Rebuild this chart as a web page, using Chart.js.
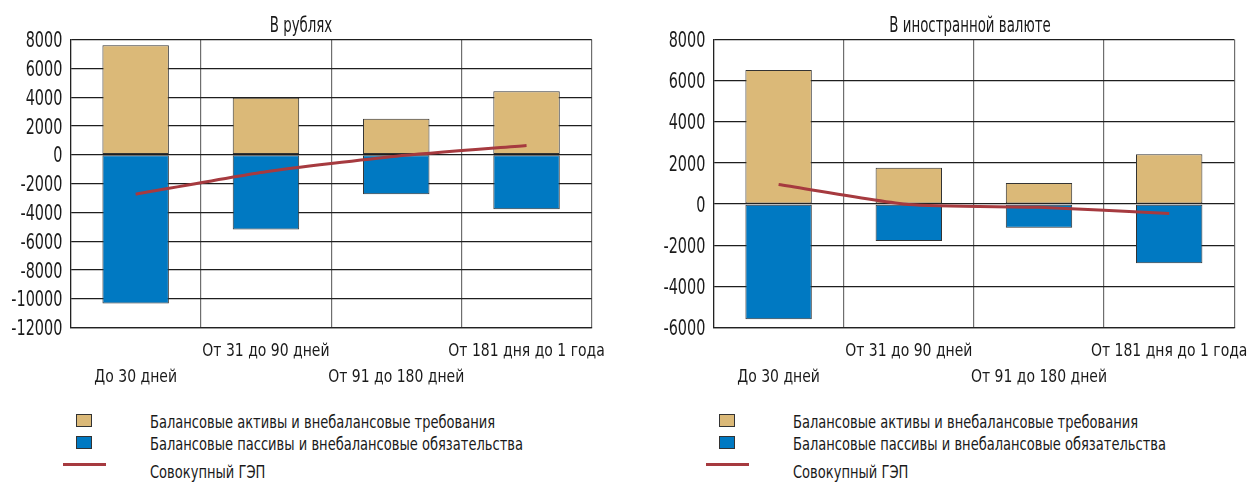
<!DOCTYPE html>
<html lang="ru">
<head>
<meta charset="utf-8">
<title>ГЭП по срокам</title>
<script src="https://cdn.jsdelivr.net/npm/chart.js@4/dist/chart.umd.min.js"></script>
<style>
  html, body { margin: 0; padding: 0; background: #fff; }
  #page { position: relative; width: 1248px; height: 482px; overflow: hidden; background: #fff;
          font-family: 'DejaVu Sans Condensed', 'DejaVu Sans', sans-serif; color: #1a1a1a; }
  canvas { position: absolute; top: 0; }
  .title { position: absolute; top: 13.2px; font-size: 20.5px; line-height: 24px; white-space: nowrap;
           transform-origin: 50% 50%; transform: translateX(-50%) scaleX(0.725); }
  .legend { position: absolute; top: 0; left: 0; }
  .lg-box { position: absolute; width: 14px; height: 10.5px; border: 1px solid #333; }
  .lg-line { position: absolute; height: 3px; background: #a63a3f; }
  .lg-text { position: absolute; font-size: 17.3px; line-height: 22px; white-space: nowrap;
             transform-origin: 0 50%; transform: scaleX(0.84); }
</style>
</head>
<body>
<div id="page">
  <canvas id="rub" width="620" height="400" style="left:0px"></canvas>
  <canvas id="fx" width="605" height="400" style="left:643px"></canvas>
  <div class="title" style="left:301px">В рублях</div>
  <div class="title" style="left:969.5px">В иностранной валюте</div>
  <div id="legend-rub" class="legend" style="left:0px"></div>
  <div id="legend-fx" class="legend" style="left:643px"></div>
</div>
<script>
// Maturity buckets
const categories = ['До 30 дней', 'От 31 до 90 дней', 'От 91 до 180 дней', 'От 181 дня до 1 года'];

// Series names
const seriesNames = [
  'Балансовые активы и внебалансовые требования',
  'Балансовые пассивы и внебалансовые обязательства',
  'Совокупный ГЭП'
];

// Rouble positions
const rubAssets      = [7600, 3950, 2500, 4400];
const rubLiabilities = [-10330, -5200, -2740, -3780];
const rubGap         = [-2740, -1180, -100, 640];

// Foreign currency positions
const fxAssets      = [6520, 1770, 1020, 2420];
const fxLiabilities = [-5600, -1800, -1150, -2880];
const fxGap         = [950, -20, -160, -460];

// Value axis ranges
const rubAxis = { min: -12000, max: 8000, step: 2000 };
const fxAxis  = { min: -6000,  max: 8000, step: 2000 };

const COLORS = { assets: '#dbb978', liabilities: '#0079c2', gap: '#a63a3f', border: '#333333', text: '#1a1a1a' };
const FONT = "'DejaVu Sans Condensed', 'DejaVu Sans', sans-serif";

// Narrow-looking axis labels: the font is squeezed horizontally when drawn
const VALUE_LABEL = { size: 20.5, squeeze: 0.78, gap: 8.2, drop: 7.6 };
const BUCKET_LABEL = { size: 18.4, squeeze: 0.845, rowBaselines: [28.2, 54.2] };

function fillSqueezed(ctx, text, x, y, k) {
  ctx.save();
  ctx.translate(x, y);
  ctx.scale(k, 1);
  ctx.fillText(text, 0, 0);
  ctx.restore();
}

const squeezedAxisLabels = {
  id: 'squeezedAxisLabels',
  afterDraw(chart) {
    const { ctx, chartArea } = chart;
    const xs = chart.scales.x, ys = chart.scales.y;
    ctx.save();
    ctx.fillStyle = COLORS.text;
    ctx.textBaseline = 'alphabetic';

    ctx.font = `${VALUE_LABEL.size}px ${FONT}`;
    ctx.textAlign = 'right';
    ys.ticks.forEach((t, i) => {
      fillSqueezed(ctx, String(t.value), ys.right - VALUE_LABEL.gap,
                   ys.getPixelForTick(i) + VALUE_LABEL.drop, VALUE_LABEL.squeeze);
    });

    // buckets alternate between two label rows
    ctx.font = `${BUCKET_LABEL.size}px ${FONT}`;
    ctx.textAlign = 'center';
    chart.data.labels.forEach((label, i) => {
      const row = i % 2 === 0 ? 1 : 0;
      fillSqueezed(ctx, label, xs.getPixelForTick(i),
                   chartArea.bottom + BUCKET_LABEL.rowBaselines[row], BUCKET_LABEL.squeeze);
    });
    ctx.restore();
  }
};

function buildChart(canvasId, assets, liabilities, gap, axis, rightPad) {
  return new Chart(document.getElementById(canvasId), {
    type: 'bar',
    data: {
      labels: categories,
      datasets: [
        {
          type: 'line', label: seriesNames[2], data: gap, stack: 'gap', order: 0,
          borderColor: COLORS.gap, borderWidth: 3, pointRadius: 0, tension: 0.2, fill: false
        },
        {
          label: seriesNames[0], data: assets, stack: 'balance', order: 1,
          backgroundColor: COLORS.assets, borderColor: COLORS.border, borderWidth: 1,
          borderSkipped: false, barPercentage: 0.51, categoryPercentage: 1
        },
        {
          label: seriesNames[1], data: liabilities, stack: 'balance', order: 1,
          backgroundColor: COLORS.liabilities, borderColor: COLORS.border, borderWidth: 1,
          borderSkipped: false, barPercentage: 0.51, categoryPercentage: 1
        }
      ]
    },
    plugins: [squeezedAxisLabels],
    options: {
      responsive: false,
      devicePixelRatio: 1,
      animation: false,
      layout: { padding: { top: 39.5, right: rightPad, bottom: 0, left: 0 } },
      plugins: { legend: { display: false }, tooltip: { enabled: false }, title: { display: false } },
      scales: {
        x: {
          stacked: true,
          offset: true,
          grid: { offset: true, color: '#6e6e6e', lineWidth: 1.2, drawTicks: false },
          border: { color: '#222', width: 1.2 },
          ticks: { display: false, autoSkip: false },
          afterFit: (s) => { s.height = 72.5; s.paddingLeft = 0; s.paddingRight = 0; }
        },
        y: {
          stacked: true,
          min: axis.min, max: axis.max,
          grid: { color: '#1e1e1e', lineWidth: 1.2, drawTicks: false },
          border: { color: '#222', width: 1.2 },
          ticks: { display: false, stepSize: axis.step },
          afterFit: (s) => { s.width = 70.5; s.paddingTop = 0; s.paddingBottom = 0; }
        }
      }
    }
  });
}

buildChart('rub', rubAssets, rubLiabilities, rubGap, rubAxis, 28.3);
buildChart('fx', fxAssets, fxLiabilities, fxGap, fxAxis, 13.7);

// Legend under each chart
function buildLegend(id) {
  const el = document.getElementById(id);
  const textTops = [411.3, 433, 461.3];
  const boxTops = [414, 436];
  seriesNames.forEach((name, i) => {
    if (i < 2) {
      const b = document.createElement('div');
      b.className = 'lg-box';
      b.style.left = '76px';
      b.style.top = boxTops[i] + 'px';
      b.style.background = i === 0 ? COLORS.assets : COLORS.liabilities;
      el.appendChild(b);
    } else {
      const l = document.createElement('div');
      l.className = 'lg-line';
      l.style.left = '63px';
      l.style.width = '43px';
      l.style.top = '462.5px';
      el.appendChild(l);
    }
    const t = document.createElement('div');
    t.className = 'lg-text';
    t.style.left = '150px';
    t.style.top = textTops[i] + 'px';
    t.textContent = name;
    el.appendChild(t);
  });
}
buildLegend('legend-rub');
buildLegend('legend-fx');
</script>
</body>
</html>
